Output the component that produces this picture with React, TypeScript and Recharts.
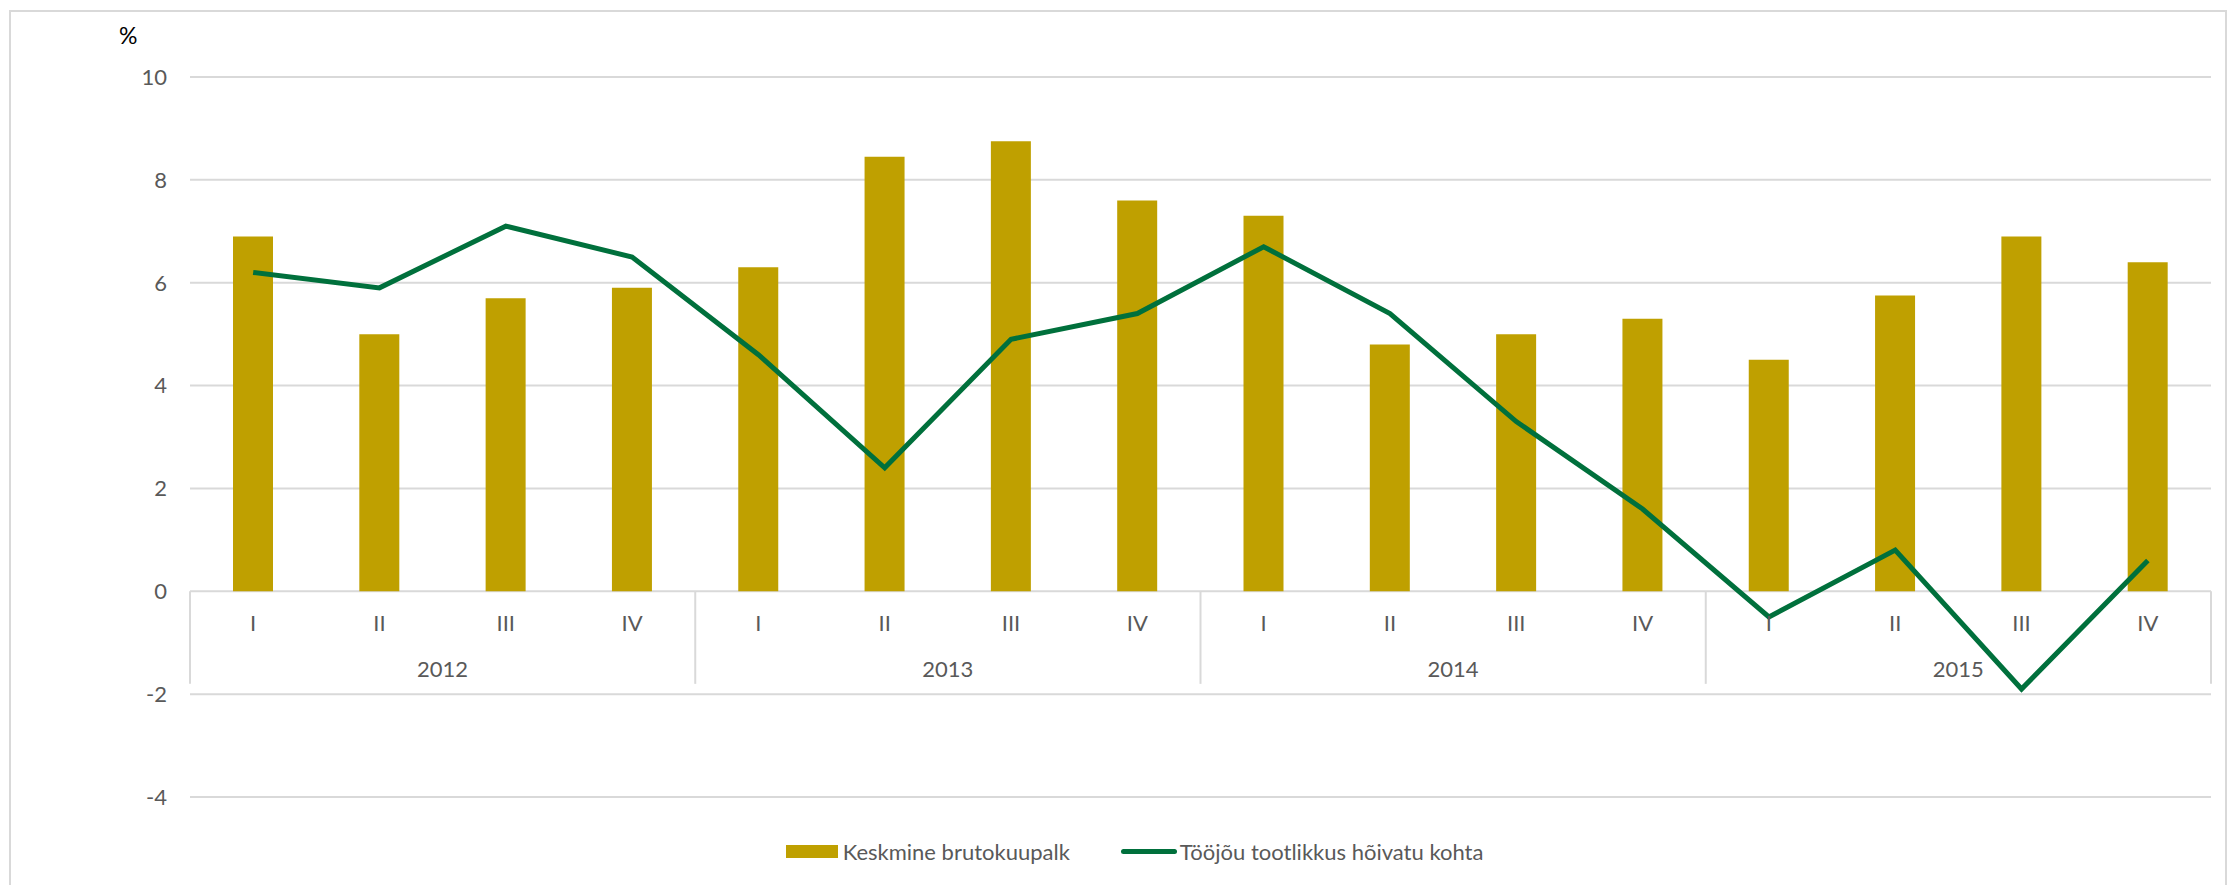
import {
  Bar,
  CartesianGrid,
  ComposedChart,
  Legend,
  Line,
  ReferenceArea,
  ReferenceDot,
  ReferenceLine,
  XAxis,
  YAxis,
} from 'recharts'

// quarterly change, %
const years = ['2012', '2013', '2014', '2015']
const quarters = ['I', 'II', 'III', 'IV']
const wages = [6.9, 5.0, 5.7, 5.9, 6.3, 8.45, 8.75, 7.6, 7.3, 4.8, 5.0, 5.3, 4.5, 5.75, 6.9, 6.4]
const productivity = [6.2, 5.9, 7.1, 6.5, 4.6, 2.4, 4.9, 5.4, 6.7, 5.4, 3.3, 1.6, -0.5, 0.8, -1.9, 0.6]
const yTicks = [-4, -2, 0, 2, 4, 6, 8, 10]

const wageName = 'Keskmine brutokuupalk'
const prodName = 'Tööjõu tootlikkus hõivatu kohta'

const BAR = '#bfa000'
const LINE = '#00703c'
const GRID = '#d9d9d9'
const TEXT = '#595959'
const FONT = 'Lato, "Open Sans", sans-serif'

const data = years.flatMap((year, yi) =>
  quarters.map((q, qi) => ({
    key: `${year} ${q}`,
    year,
    quarter: q,
    wage: wages[yi * 4 + qi],
    prod: productivity[yi * 4 + qi],
  }))
)

const renderLegend = () => (
  <div
    style={{
      display: 'flex',
      justifyContent: 'center',
      alignItems: 'center',
      fontFamily: FONT,
      fontSize: 22,
      color: TEXT,
      paddingLeft: 38,
    }}
  >
    <span style={{ display: 'inline-block', width: 52, height: 13, background: BAR }} />
    <span style={{ marginLeft: 5 }}>{wageName}</span>
    <span
      style={{ display: 'inline-block', width: 56, height: 5, borderRadius: 3, background: LINE, marginLeft: 51 }}
    />
    <span style={{ marginLeft: 3 }}>{prodName}</span>
  </div>
)

export default function App() {
  return (
    <div style={{ position: 'fixed', left: 0, top: 0, width: 2231, height: 885, background: '#fff', overflow: 'hidden' }}>
      <div
        style={{
          position: 'absolute',
          left: 9,
          top: 10,
          width: 2218,
          height: 900,
          border: `2px solid ${GRID}`,
          boxSizing: 'border-box',
        }}
      />
      <div style={{ position: 'absolute', left: 119, top: 21, fontFamily: FONT, fontSize: 23, color: '#000' }}>%</div>
      <div style={{ position: 'absolute', left: 0, top: 0 }}>
        <ComposedChart
          width={2231}
          height={885}
          data={data}
          margin={{ top: 77, right: 20, left: 0, bottom: 60 }}
          barCategoryGap={0}
        >
          <CartesianGrid vertical={false} stroke={GRID} strokeWidth={2} />
          <XAxis dataKey="key" hide />
          <YAxis
            width={190}
            domain={[-4, 10]}
            ticks={yTicks}
            axisLine={false}
            tickLine={false}
            tickMargin={17}
            tick={{ fill: TEXT, fontSize: 22, fontFamily: FONT }}
          />
          <Legend
            verticalAlign="bottom"
            content={renderLegend}
            wrapperStyle={{ position: 'absolute', top: 838, left: 0, width: 2231, height: 28 }}
          />
          <Bar dataKey="wage" name={wageName} fill={BAR} barSize={40} isAnimationActive={false} />
          {data.map((d) => (
            <ReferenceDot
              key={d.key}
              x={d.key}
              y={0}
              r={0}
              stroke="none"
              fill="none"
              label={{ value: d.quarter, position: 'bottom', offset: 24, fill: TEXT, fontSize: 22, fontFamily: FONT }}
            />
          ))}
          {years.map((y) => (
            <ReferenceArea
              key={y}
              x1={`${y} I`}
              x2={`${y} IV`}
              y1={0}
              y2={-1.8}
              stroke="none"
              fillOpacity={0}
              label={{ value: y, position: 'insideBottom', offset: 7, fill: TEXT, fontSize: 22, fontFamily: FONT }}
            />
          ))}
          {years.map((y) => (
            <ReferenceLine
              key={`sep-${y}`}
              segment={[
                { x: `${y} I`, y: 0 },
                { x: `${y} I`, y: -1.8 },
              ]}
              position="start"
              stroke={GRID}
              strokeWidth={2}
            />
          ))}
          <ReferenceLine
            segment={[
              { x: '2015 IV', y: 0 },
              { x: '2015 IV', y: -1.8 },
            ]}
            position="end"
            stroke={GRID}
            strokeWidth={2}
          />
          <Line
            type="linear"
            dataKey="prod"
            name={prodName}
            stroke={LINE}
            strokeWidth={5}
            dot={false}
            activeDot={false}
            isAnimationActive={false}
          />
        </ComposedChart>
      </div>
    </div>
  )
}
